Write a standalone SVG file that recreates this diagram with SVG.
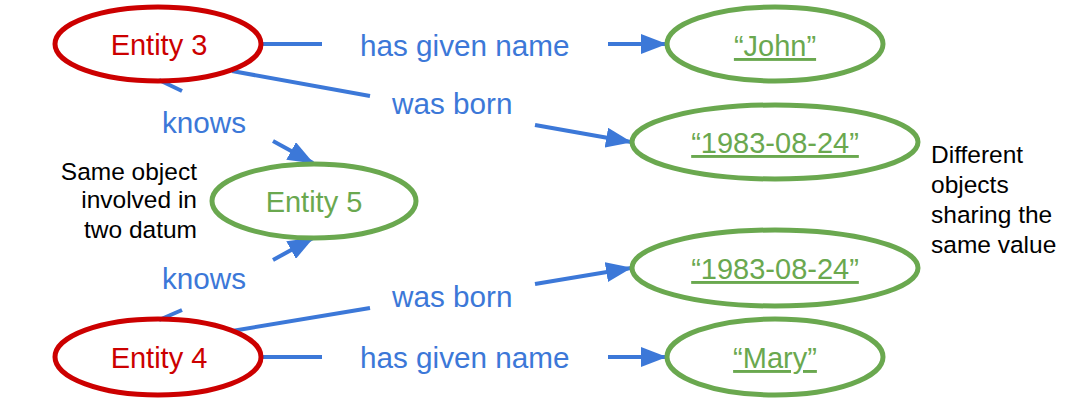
<svg xmlns="http://www.w3.org/2000/svg" width="1066" height="410" viewBox="0 0 1066 410">
<style>
.ent{fill:none;stroke:#cc0000;stroke-width:5}
.val{fill:none;stroke:#6aa84f;stroke-width:5}
.t{font-family:"Liberation Sans",Arial,sans-serif;font-size:29px}
.lbl{font-family:"Liberation Sans",Arial,sans-serif;font-size:29.7px;fill:#3c78d8}
.red{fill:#cc0000}
.green{fill:#6aa84f}
.u{text-decoration:underline}
.note{font-family:"Liberation Sans",Arial,sans-serif;font-size:24.5px;fill:#000}
.c{fill:none;stroke:#3c78d8;stroke-width:4}
</style>
<defs>
<marker id="ah" markerUnits="userSpaceOnUse" markerWidth="26" markerHeight="20" refX="25" refY="10" orient="auto">
<path d="M0,0 L26,10 L0,20 z" fill="#3c78d8"/>
</marker>
</defs>
<rect width="1066" height="410" fill="#fff"/>
<g id="connectors">
<line class="c" x1="262" y1="44" x2="322" y2="44"/>
<line class="c" x1="608" y1="44" x2="666" y2="44" marker-end="url(#ah)"/>
<line class="c" x1="232" y1="71" x2="370" y2="96"/>
<line class="c" x1="535" y1="125" x2="631" y2="142" marker-end="url(#ah)"/>
<line class="c" x1="159" y1="80" x2="182" y2="91"/>
<line class="c" x1="273" y1="141" x2="313" y2="163" marker-end="url(#ah)"/>
<line class="c" x1="159" y1="320" x2="182" y2="310"/>
<line class="c" x1="273" y1="260" x2="313" y2="238" marker-end="url(#ah)"/>
<line class="c" x1="232" y1="331" x2="370" y2="308"/>
<line class="c" x1="535" y1="284" x2="631" y2="268" marker-end="url(#ah)"/>
<line class="c" x1="262" y1="357" x2="322" y2="357"/>
<line class="c" x1="608" y1="357" x2="666" y2="357" marker-end="url(#ah)"/>
<text class="lbl" x="360" y="56">has given name</text>
<text class="lbl" x="392" y="114">was born</text>
<text class="lbl" x="162" y="133">knows</text>
<text class="lbl" x="162" y="289">knows</text>
<text class="lbl" x="392" y="307">was born</text>
<text class="lbl" x="360" y="368">has given name</text>
</g>
<g id="entity3">
<ellipse class="ent" cx="158" cy="44" rx="103" ry="37"/>
<text class="t red" x="159" y="55" text-anchor="middle">Entity 3</text>
</g>
<g id="entity4">
<ellipse class="ent" cx="158" cy="357" rx="103" ry="38"/>
<text class="t red" x="159" y="368" text-anchor="middle">Entity 4</text>
</g>
<g id="entity5">
<ellipse class="val" cx="314" cy="201" rx="102" ry="37"/>
<text class="t green" x="314" y="212" text-anchor="middle">Entity 5</text>
</g>
<g id="john">
<ellipse class="val" cx="775" cy="44" rx="108" ry="37"/>
<text class="t green u" x="775" y="56" text-anchor="middle">“John”</text>
</g>
<g id="date1">
<ellipse class="val" cx="775" cy="142" rx="143" ry="37"/>
<text class="t green u" x="775" y="153" text-anchor="middle">“1983-08-24”</text>
</g>
<g id="date2">
<ellipse class="val" cx="775" cy="268" rx="143" ry="38"/>
<text class="t green u" x="775" y="279" text-anchor="middle">“1983-08-24”</text>
</g>
<g id="mary">
<ellipse class="val" cx="775" cy="357" rx="108" ry="38"/>
<text class="t green u" x="775" y="368" text-anchor="middle">“Mary”</text>
</g>
<g id="note-left">
<text class="note" text-anchor="end"><tspan x="197" y="180">Same object</tspan><tspan x="197" y="208">involved in</tspan><tspan x="197" y="238">two datum</tspan></text>
</g>
<g id="note-right">
<text class="note"><tspan x="931" y="163">Different</tspan><tspan x="931" y="193">objects</tspan><tspan x="931" y="223">sharing the</tspan><tspan x="931" y="253">same value</tspan></text>
</g>
</svg>
